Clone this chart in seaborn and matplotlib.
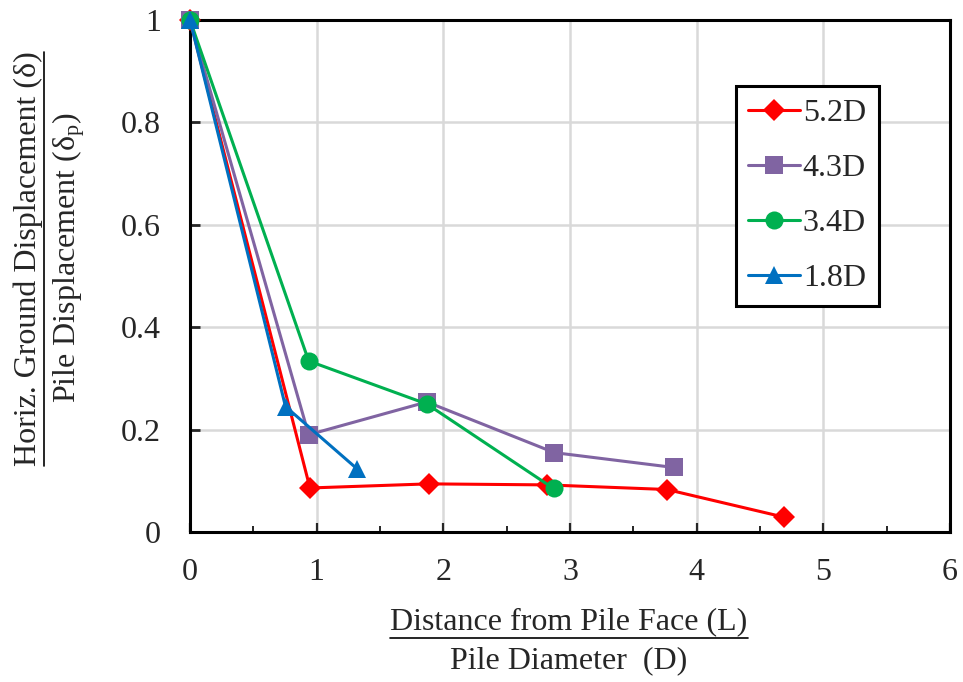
import numpy as np
import pandas as pd
import matplotlib
matplotlib.use("Agg")
import matplotlib.pyplot as plt
import seaborn as sns
from matplotlib.lines import Line2D
from matplotlib.ticker import MultipleLocator

# data
series = ['5.2D', '4.3D', '3.4D', '1.8D']
x_52 = [0, 0.947, 1.884, 2.82, 3.765, 4.69]
y_52 = [1.0, 0.086, 0.094, 0.092, 0.083, 0.029]
x_43 = [0, 0.937, 1.87, 2.877, 3.82]
y_43 = [1.0, 0.19, 0.254, 0.155, 0.126]
x_34 = [0, 0.937, 1.87, 2.87]
y_34 = [1.0, 0.334, 0.25, 0.085]
x_18 = [0, 0.754, 1.316]
y_18 = [1.0, 0.245, 0.124]

x_ticks = [0, 1, 2, 3, 4, 5, 6]
y_ticks = [0, 0.2, 0.4, 0.6, 0.8, 1]
y_ticklabels = ['0', '0.2', '0.4', '0.6', '0.8', '1']

xs = [x_52, x_43, x_34, x_18]
ys = [y_52, y_43, y_34, y_18]
df = pd.concat([pd.DataFrame({'L': x, 'disp': y, 'case': s})
                for s, x, y in zip(series, xs, ys)], ignore_index=True)

colors = {'5.2D': '#FF0000', '4.3D': '#8064A2', '3.4D': '#00B050', '1.8D': '#0070C0'}
markers = {'5.2D': 'D', '4.3D': 's', '3.4D': 'o', '1.8D': '^'}
msize = {'5.2D': 11.5, '4.3D': 13, '3.4D': 13, '1.8D': 13}

sns.set_style('white')
plt.rcParams['font.family'] = ['Liberation Serif', 'DejaVu Serif']
plt.rcParams['mathtext.default'] = 'regular'

FS = 23
W, H = 963, 682
fig = plt.figure(figsize=(W / 100, H / 100), dpi=100)
ax = fig.add_axes([190 / W, 1 - 532 / H, 760 / W, 512 / H])

for s in series:
    sns.lineplot(data=df[df['case'] == s], x='L', y='disp', color=colors[s],
                 marker=markers[s], markersize=msize[s], markeredgewidth=0,
                 linewidth=2.2, sort=False, label=s, clip_on=False, zorder=3, ax=ax)

ax.set_xlim(0, 6)
ax.set_ylim(0, 1)
ax.set_xticks(x_ticks)
ax.set_xticklabels([str(t) for t in x_ticks])
ax.set_yticks(y_ticks)
ax.set_yticklabels(y_ticklabels)
ax.xaxis.set_minor_locator(MultipleLocator(0.5))
ax.grid(True, which='major', color='#D9D9D9', linewidth=1.8)
ax.set_axisbelow(True)
for sp in ax.spines.values():
    sp.set_color('black')
    sp.set_linewidth(2.2)
    sp.set_visible(True)
    sp.set_zorder(2.5)
ax.tick_params(axis='x', which='major', direction='in', length=6.5, width=1.6,
               labelsize=FS, pad=19, bottom=True, top=False)
ax.tick_params(axis='x', which='minor', direction='in', length=4.5, width=1.4,
               bottom=True, top=False)
ax.tick_params(axis='y', which='major', direction='in', length=7, width=2,
               labelsize=FS, pad=21, left=True, right=False)
ax.set_xlabel('')
ax.set_ylabel('')

handles, labels = ax.get_legend_handles_labels()
leg = ax.legend(handles, labels, loc='upper left', bbox_to_anchor=(0.718, 0.871),
                borderaxespad=0, fontsize=FS, frameon=True, fancybox=False,
                framealpha=1, edgecolor='black', handlelength=1.6,
                handletextpad=0.1, borderpad=0.4, labelspacing=0.8)
leg.get_frame().set_linewidth(2.2)
leg.set_zorder(5)

# stacked fraction-style axis titles
t1 = fig.text(569 / W, 1 - 622 / H, 'Distance from Pile Face (L)', ha='center',
              va='center', fontsize=FS)
fig.text(569 / W, 1 - 661 / H, 'Pile Diameter  (D)', ha='center', va='center',
         fontsize=FS)
t2 = fig.text(28 / W, 1 - 259 / H, 'Horiz. Ground Displacement (δ)', ha='center',
              va='center', rotation=90, fontsize=FS)
fig.text(69 / W, 1 - 258 / H, r'Pile Displacement (δ$_p$)', ha='center',
         va='center', rotation=90, fontsize=FS)

fig.canvas.draw()
r = fig.canvas.get_renderer()
b1 = t1.get_window_extent(r)
fig.add_artist(Line2D([b1.x0 / W, b1.x1 / W], [(b1.y0 - 1) / H] * 2,
                      color='black', linewidth=1.2, transform=fig.transFigure))
b2 = t2.get_window_extent(r)
fig.add_artist(Line2D([(b2.x1 + 1) / W] * 2, [b2.y0 / H, b2.y1 / H],
                      color='black', linewidth=1.2, transform=fig.transFigure))

fig.savefig('out.png', dpi=100)
